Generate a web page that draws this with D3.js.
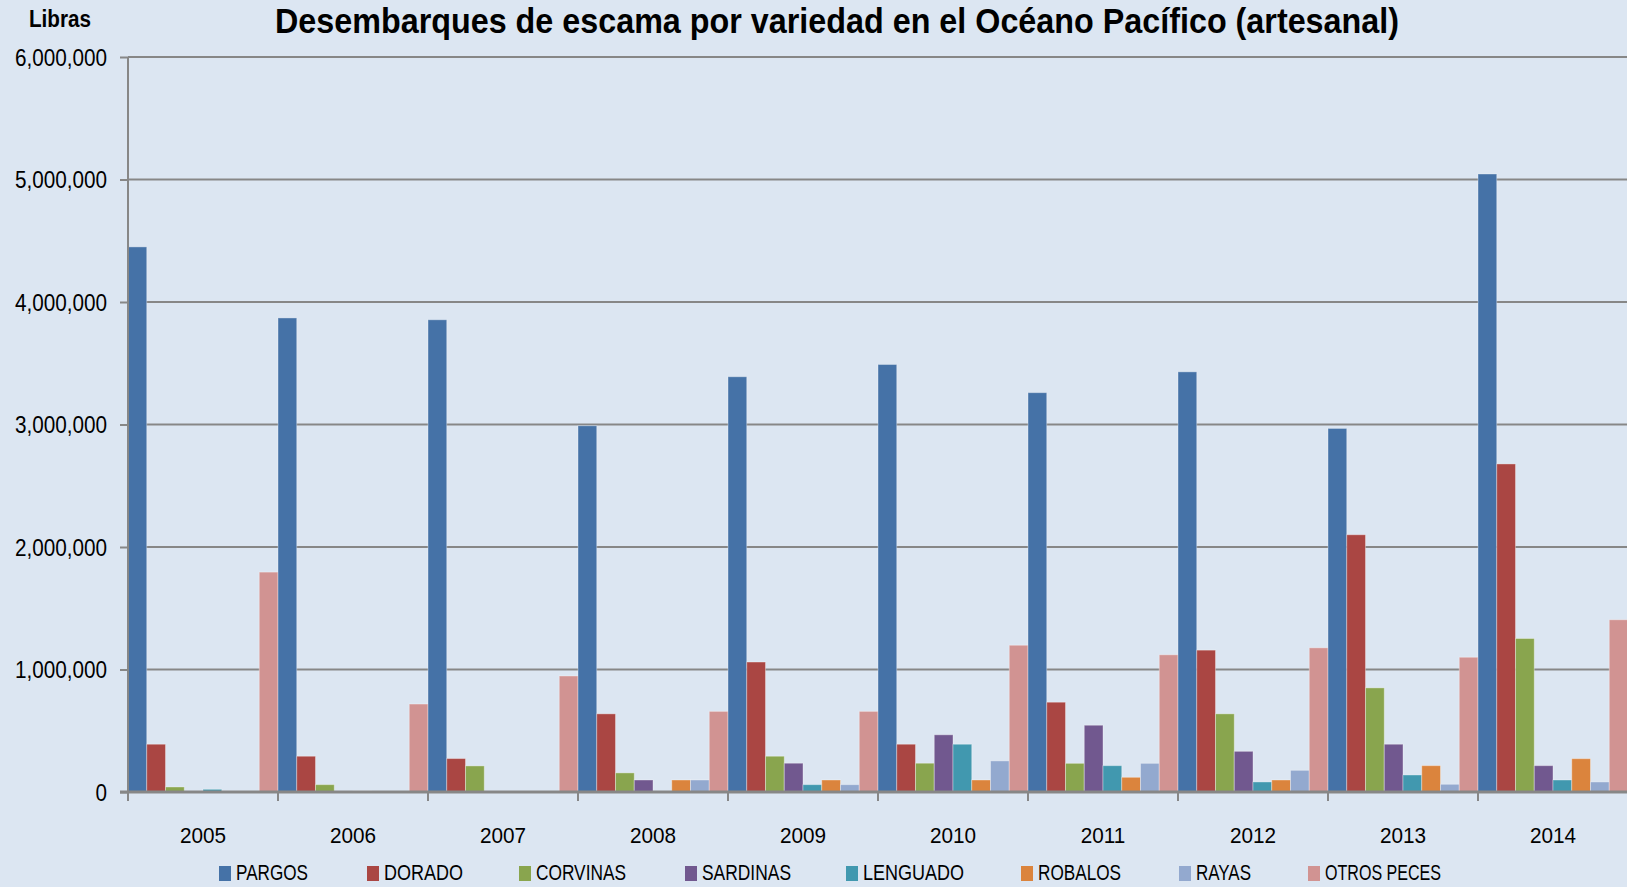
<!DOCTYPE html>
<html>
<head>
<meta charset="utf-8">
<script src="https://cdn.jsdelivr.net/npm/d3@7"></script>
<style>
  html, body { margin: 0; padding: 0; background: #DCE6F2; }
  svg { display: block; }
  text { font-family: 'Liberation Sans', Arial, sans-serif; fill: #000; }
</style>
</head>
<body>
<svg id="chart" width="1627" height="887"></svg>
<script>
// ---- data ----
const years = ["2005","2006","2007","2008","2009","2010","2011","2012","2013","2014"];
const seriesNames = ["PARGOS","DORADO","CORVINAS","SARDINAS","LENGUADO","ROBALOS","RAYAS","OTROS PECES"];
const pargos   = [4450000, 3870000, 3855000, 2990000, 3390000, 3490000, 3260000, 3430000, 2968000, 5045000];
const dorado   = [ 390000,  292000,  273000,  638000, 1061000,  390000,  733000, 1158000, 2100000, 2678000];
const corvinas = [  41000,   60000,  213000,  156000,  292000,  235000,  234000,  638000,  850000, 1253000];
const sardinas = [      0,       0,       0,   98000,  235000,  467000,  545000,  332000,  390000,  215000];
const lenguado = [  22000,    8000,       0,    4000,   60000,  390000,  215000,   82000,  139000,   98000];
const robalos  = [      0,       0,       0,   98000,   98000,   98000,  120000,   98000,  215000,  272000];
const rayas    = [      0,       0,       0,   98000,   60000,  254000,  234000,  177000,   63000,   82000];
const otros    = [1795000,  718000,  947000,  658000,  658000, 1198000, 1120000, 1177000, 1100000, 1406000];
const yTicks = [0, 1000000, 2000000, 3000000, 4000000, 5000000, 6000000];
const colors = ["#4572A7","#AA4643","#89A54E","#71588F","#4198AF","#DB843D","#93A9CF","#D19392"];
const titleText = "Desembarques de escama por variedad en el Océano Pacífico (artesanal)";
const yLabel = "Libras";

const seriesValues = [pargos, dorado, corvinas, sardinas, lenguado, robalos, rayas, otros];
const table = years.map((yr, i) => {
  const row = { year: yr };
  seriesNames.forEach((s, j) => row[s] = seriesValues[j][i]);
  return row;
});

// ---- layout ----
const svg = d3.select("#chart");
const plotLeft = 128, plotRight = 1628, plotTop = 57, plotBottom = 792;
const FONT = "'Liberation Sans', Arial, sans-serif";

// horizontally condense text (reference uses a narrow face)
function squeeze(sel, factor) {
  sel.each(function () {
    const w = this.getComputedTextLength();
    this.setAttribute("textLength", (w * factor).toFixed(1));
    this.setAttribute("lengthAdjust", "spacingAndGlyphs");
  });
}

const x0 = d3.scaleBand().domain(years).range([plotLeft, plotRight]).paddingInner(0).paddingOuter(0);
const x1 = d3.scaleBand().domain(seriesNames).range([0, x0.bandwidth()]).padding(0);
const y = d3.scaleLinear().domain([0, 6000000]).range([plotBottom, plotTop]);
const color = d3.scaleOrdinal().domain(seriesNames).range(colors);

svg.append("rect").attr("width", 1627).attr("height", 887).attr("fill", "#DCE6F2");

// gridlines
svg.append("g").selectAll("line").data(yTicks.filter(d => d > 0)).join("line")
  .attr("x1", plotLeft).attr("x2", 1627)
  .attr("y1", d => y(d)).attr("y2", d => y(d))
  .attr("stroke", "#878787").attr("stroke-width", 2);

// bars
const groups = svg.append("g").selectAll("g").data(table).join("g")
  .attr("transform", d => `translate(${x0(d.year)},0)`);
groups.selectAll("rect").data(d => seriesNames.map(s => ({ key: s, value: d[s] }))).join("rect")
  .attr("x", d => x1(d.key))
  .attr("y", d => y(d.value))
  .attr("width", x1.bandwidth())
  .attr("height", d => y(0) - y(d.value))
  .attr("fill", d => color(d.key))
  .attr("stroke", "rgba(255,255,255,0.35)")
  .attr("stroke-width", 1);

// y axis
const yAxis = d3.axisLeft(y).tickValues(yTicks).tickSize(8).tickPadding(13)
  .tickFormat(d3.format(","));
const gy = svg.append("g").attr("transform", `translate(${plotLeft},0)`).call(yAxis);
gy.select(".domain").attr("stroke", "#878787").attr("stroke-width", 2).attr("d", `M0,${plotTop}V${plotBottom}`);
gy.selectAll(".tick line").attr("stroke", "#878787").attr("stroke-width", 2);
gy.selectAll(".tick text").attr("font-size", 23).attr("fill", "#000").style("font-family", FONT)
  .attr("dy", null).attr("y", 8);
squeeze(gy.selectAll(".tick text"), 0.90);

// x axis (category boundaries ticks)
const boundaries = years.map(yv => x0(yv));
svg.append("line").attr("x1", plotLeft - 8).attr("x2", 1627).attr("y1", plotBottom).attr("y2", plotBottom)
  .attr("stroke", "#878787").attr("stroke-width", 3);
svg.append("g").selectAll("line").data(boundaries).join("line")
  .attr("x1", d => d).attr("x2", d => d).attr("y1", plotBottom).attr("y2", plotBottom + 9)
  .attr("stroke", "#878787").attr("stroke-width", 2);
const xAxis = d3.axisBottom(x0).tickSize(0).tickPadding(0);
const gx = svg.append("g").attr("transform", `translate(0,${plotBottom})`).call(xAxis);
gx.select(".domain").remove();
gx.selectAll(".tick text").attr("font-size", 22.5).attr("fill", "#000").attr("dy", null).attr("y", 51)
  .style("font-family", FONT);
squeeze(gx.selectAll(".tick text"), 0.92);

// title
svg.append("text").attr("x", 837).attr("y", 33).attr("text-anchor", "middle")
  .attr("font-size", 35).attr("font-weight", "bold")
  .attr("textLength", 1124).attr("lengthAdjust", "spacingAndGlyphs")
  .text(titleText);

svg.append("text").attr("x", 29).attr("y", 27).attr("font-size", 23).attr("font-weight", "bold")
  .attr("textLength", 62).attr("lengthAdjust", "spacingAndGlyphs")
  .text(yLabel);

// legend
const legendX = [219, 367, 519, 685, 846, 1021, 1179, 1308];
const legendTextW = [72, 79, 90, 89, 101, 83, 55, 116];
const legend = svg.append("g").selectAll("g").data(seriesNames).join("g")
  .attr("transform", (d, i) => `translate(${legendX[i]},0)`);
legend.append("rect").attr("x", 0).attr("y", 866).attr("width", 12).attr("height", 15)
  .attr("fill", d => color(d));
legend.append("text").attr("x", 17).attr("y", 880).attr("font-size", 22)
  .attr("textLength", (d, i) => legendTextW[i]).attr("lengthAdjust", "spacingAndGlyphs")
  .text(d => d);
</script>
</body>
</html>
